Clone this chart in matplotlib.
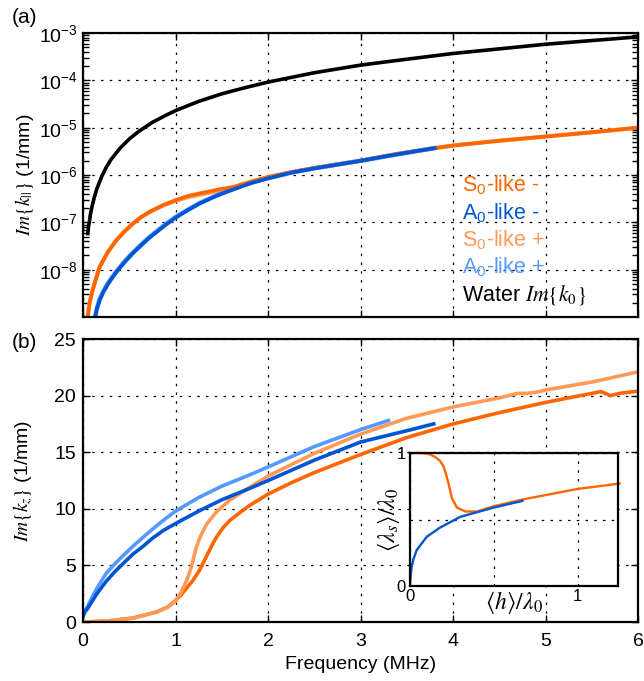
import numpy as np
import matplotlib
matplotlib.use("Agg")
import matplotlib.pyplot as plt
from matplotlib.ticker import LogLocator, NullFormatter

plt.rcParams['font.family'] = ['Liberation Sans', 'DejaVu Sans']
plt.rcParams['mathtext.fontset'] = 'stix'

# colours
C_S0 = "#ff6600"
C_A0 = "#0055d4"
C_S0P = "#ff9955"
C_A0P = "#5599ff"

# ---- panel (a): Im{k_par}, log scale ----
f_water = [0.05, 0.06, 0.07, 0.08, 0.1, 0.12, 0.15, 0.2, 0.25, 0.3, 0.4, 0.5, 0.6, 0.75, 0.9, 1.0,
           1.25, 1.5, 1.75, 2.0, 2.5, 3.0, 3.5, 4.0, 5.0, 6.0]
water_a = [5.8e-8, 8.3e-8, 1.1e-7, 1.5e-7, 2.3e-7, 3.3e-7, 5.2e-7, 9.2e-7, 1.45e-6, 2.1e-6, 3.7e-6,
           5.8e-6, 8.3e-6, 1.3e-5, 1.85e-5, 2.3e-5, 3.6e-5, 5.2e-5, 7.0e-5, 9.2e-5, 1.45e-4, 2.1e-4,
           2.8e-4, 3.7e-4, 5.8e-4, 8.3e-4]

f_s0_a = [0.05, 0.07, 0.1, 0.14, 0.18, 0.27, 0.36, 0.45, 0.54, 0.63, 0.72, 0.86, 1.0, 1.13, 1.26,
          1.36, 1.47, 1.62, 1.8, 2.0, 2.25, 2.5, 3.0, 3.4, 3.8, 4.0, 4.5, 5.0, 5.5, 6.0]
s0_minus_a = [1e-9, 2e-9, 3.5e-9, 6.5e-9, 1.15e-8, 2.4e-8, 4.2e-8, 6.5e-8, 9.5e-8, 1.3e-7, 1.67e-7,
              2.3e-7, 2.95e-7, 3.6e-7, 4.1e-7, 4.5e-7, 5.0e-7, 5.6e-7, 7.1e-7, 9.1e-7, 1.15e-6,
              1.4e-6, 2.0e-6, 2.8e-6, 3.7e-6, 4.2e-6, 5.3e-6, 6.5e-6, 8.0e-6, 1.0e-5]
s0_plus_a = [1e-9, 2e-9, 3.5e-9, 6.5e-9, 1.15e-8, 2.4e-8, 4.2e-8, 6.5e-8, 9.5e-8, 1.3e-7, 1.65e-7,
             2.25e-7, 2.85e-7, 3.4e-7, 3.85e-7, 4.2e-7, 4.7e-7, 5.4e-7, 7.0e-7, 9.0e-7, 1.15e-6,
             1.4e-6, 2.0e-6, 2.8e-6, 3.7e-6, 4.2e-6, 5.3e-6, 6.5e-6, 8.0e-6, 1.0e-5]

f_a0_a = [0.13, 0.15, 0.18, 0.22, 0.27, 0.36, 0.45, 0.54, 0.63, 0.72, 0.81, 0.9, 1.0, 1.13, 1.26,
          1.45, 1.64, 1.82, 2.0, 2.25, 2.5, 3.0, 3.4, 3.8]
a0_minus_a = [1e-9, 1.5e-9, 2.3e-9, 3.4e-9, 5e-9, 8.9e-9, 1.45e-8, 2.25e-8, 3.3e-8, 4.8e-8, 6.6e-8,
              9.1e-8, 1.26e-7, 1.8e-7, 2.5e-7, 3.7e-7, 5.1e-7, 6.8e-7, 8.5e-7, 1.12e-6, 1.38e-6,
              2.0e-6, 2.75e-6, 3.7e-6]
a0_plus_a = [1e-9, 1.55e-9, 2.4e-9, 3.5e-9, 5.2e-9, 9.2e-9, 1.5e-8, 2.3e-8, 3.4e-8, 4.9e-8, 6.8e-8,
             9.3e-8, 1.29e-7, 1.83e-7, 2.55e-7, 3.75e-7, 5.2e-7, 6.9e-7, 8.6e-7, 1.13e-6, 1.39e-6,
             2.0e-6, 2.75e-6, 3.7e-6]

# ---- panel (b): Im{k_z}, linear ----
f_s0m_b = [0, 0.25, 0.54, 0.8, 0.92, 1.0, 1.06, 1.12, 1.19, 1.26, 1.3, 1.34, 1.4, 1.45, 1.52, 1.59,
           1.7, 1.8, 2.0, 2.25, 2.5, 3.0, 3.5, 4.0, 4.5, 5.0, 5.5, 5.6, 5.7, 5.8, 6.0]
s0_minus_b = [0, 0.08, 0.35, 0.9, 1.35, 1.9, 2.4, 3.0, 3.7, 4.6, 5.25, 5.9, 6.9, 7.6, 8.4, 9.0,
              9.7, 10.3, 11.3, 12.3, 13.2, 14.8, 16.3, 17.5, 18.5, 19.4, 20.2, 20.35, 20.0, 20.2, 20.4]

f_s0p_b = [0, 0.25, 0.54, 0.8, 0.92, 1.0, 1.06, 1.12, 1.16, 1.19, 1.22, 1.26, 1.3, 1.34, 1.4, 1.45,
           1.59, 1.8, 2.0, 2.5, 3.0, 3.5, 4.0, 4.5, 4.7, 4.8, 4.9, 5.0, 5.5, 6.0]
s0_plus_b = [0, 0.08, 0.35, 0.9, 1.35, 1.9, 2.6, 3.7, 4.6, 5.5, 6.5, 7.4, 8.1, 8.7, 9.3, 9.8,
             10.8, 11.9, 12.9, 14.9, 16.6, 18.0, 19.0, 19.8, 20.2, 20.2, 20.3, 20.5, 21.2, 22.1]

f_a0m_b = [0, 0.02, 0.05, 0.08, 0.15, 0.25, 0.35, 0.45, 0.54, 0.65, 0.75, 0.87, 1.0, 1.25, 1.5,
           1.8, 2.0, 2.5, 3.0, 3.5, 3.79]
a0_minus_b = [0.5, 0.9, 1.2, 1.6, 2.5, 3.6, 4.5, 5.3, 6.0, 6.7, 7.4, 8.1, 8.7, 9.8, 10.8,
              11.8, 12.5, 14.3, 15.9, 16.9, 17.5]

f_a0p_b = [0, 0.02, 0.05, 0.08, 0.15, 0.25, 0.35, 0.45, 0.54, 0.65, 0.75, 0.87, 1.0, 1.25, 1.5,
           1.8, 2.0, 2.5, 3.0, 3.3]
a0_plus_b = [0.5, 1.0, 1.4, 1.9, 3.0, 4.3, 5.2, 6.0, 6.7, 7.5, 8.2, 9.0, 9.8, 11.0, 12.0,
             13.0, 13.7, 15.5, 17.0, 17.8]

# ---- inset: <lambda_s>/lambda_0 vs <h>/lambda_0 ----
h_s0 = [0, 0.07, 0.12, 0.15, 0.18, 0.2, 0.215, 0.23, 0.25, 0.28, 0.33, 0.4, 0.5, 0.67, 1.0, 1.25]
lam_s0 = [1.0, 1.0, 0.99, 0.97, 0.94, 0.9, 0.84, 0.77, 0.66, 0.59, 0.56, 0.56, 0.60, 0.65, 0.73, 0.77]
h_a0 = [0, 0.003, 0.01, 0.02, 0.04, 0.1, 0.18, 0.3, 0.5, 0.67]
lam_a0 = [0, 0.07, 0.14, 0.2, 0.27, 0.37, 0.44, 0.52, 0.59, 0.64]

GRID = dict(color="k", linestyle=(0, (2, 5)), linewidth=0.9)


def style_axes(ax):
    for s in ax.spines.values():
        s.set_linewidth(1.6)
    ax.tick_params(which="both", direction="in", top=True, right=True, labelsize=14)
    ax.tick_params(which="major", length=5, width=1)
    ax.tick_params(which="minor", length=4, width=1)


fig = plt.figure(figsize=(6.44, 6.81), dpi=100)

# (a)
ax1 = fig.add_axes([0.129, 0.5345, 0.862, 0.417])
ax1.plot(f_s0_a, s0_plus_a, color=C_S0P, lw=3.0)
ax1.plot(f_a0_a, a0_plus_a, color=C_A0P, lw=3.3)
l_s0, = ax1.plot(f_s0_a, s0_minus_a, color=C_S0, lw=2.6)
l_a0, = ax1.plot(f_a0_a, a0_minus_a, color=C_A0, lw=2.6)
l_w, = ax1.plot(f_water, water_a, color="k", lw=2.6)
ax1.set_yscale("log")
ax1.set_xlim(0, 6)
ax1.set_ylim(1e-9, 1e-3)
ax1.set_yticks([1e-8, 1e-7, 1e-6, 1e-5, 1e-4, 1e-3])
ax1.yaxis.set_minor_locator(LogLocator(base=10, subs=np.arange(2, 10), numticks=100))
ax1.yaxis.set_minor_formatter(NullFormatter())
ax1.set_xticks(range(7))
ax1.set_xticklabels([])
ax1.grid(True, which="major", **GRID)
style_axes(ax1)
ax1.tick_params(axis="y", pad=4)
ax1.set_ylabel(r"$Im\{k_{||}\}$ (1/mm)", fontsize=14, labelpad=2)

h_s0p, = ax1.plot([], [], color=C_S0P)
h_a0p, = ax1.plot([], [], color=C_A0P)
leg = ax1.legend([l_s0, l_a0, h_s0p, h_a0p, l_w],
                 [r"S$_{\mathdefault{0}}$-like -", r"A$_{\mathdefault{0}}$-like -",
                  r"S$_{\mathdefault{0}}$-like +", r"A$_{\mathdefault{0}}$-like +",
                  r"Water $Im\{k_0\}$"],
                 loc="lower left", bbox_to_anchor=(0.647, -0.032), frameon=False,
                 handlelength=0, handletextpad=0, labelspacing=0.2,
                 labelcolor="linecolor", fontsize=15.5)
for h in leg.legend_handles:
    h.set_visible(False)

# (b)
ax2 = fig.add_axes([0.129, 0.0866, 0.862, 0.4156])
ax2.plot(f_s0m_b, s0_minus_b, color=C_S0, lw=2.6)
ax2.plot(f_s0p_b, s0_plus_b, color=C_S0P, lw=2.6)
ax2.plot(f_a0p_b, a0_plus_b, color=C_A0P, lw=2.6)
ax2.plot(f_a0m_b, a0_minus_b, color=C_A0, lw=2.6)
ax2.set_xlim(0, 6)
ax2.set_ylim(0, 25)
ax2.set_xticks(range(7))
ax2.set_yticks(range(0, 26, 5))
ax2.grid(True, which="major", **GRID)
style_axes(ax2)
ax2.tick_params(axis="x", pad=8)
ax2.tick_params(axis="y", pad=5)
ax2.set_xlabel("Frequency (MHz)", fontsize=14, labelpad=4)
ax2.set_ylabel(r"$Im\{k_z\}$ (1/mm)", fontsize=14, labelpad=14)

# inset
ax3 = fig.add_axes([0.6366, 0.1395, 0.323, 0.1953])
ax3.plot(h_s0, lam_s0, color=C_S0, lw=1.7, clip_on=False)
ax3.plot(h_a0, lam_a0, color=C_A0, lw=1.7)
ax3.set_xlim(0, 1.24)
ax3.set_ylim(0, 1)
ax3.set_xticks([0, 0.5, 1])
ax3.set_xticklabels(["0", "", "1"])
ax3.set_yticks([0, 0.5, 1])
ax3.set_yticklabels(["0", "", "1"])
ax3.grid(True, which="major", **GRID)
for s in ax3.spines.values():
    s.set_linewidth(1.6)
ax3.tick_params(direction="in", length=0, labelsize=12)
ax3.tick_params(axis="x", pad=2)
ax3.tick_params(axis="y", pad=3)
ax3.set_xlabel(r"$\langle h\rangle/\lambda_0$", fontsize=17)
ax3.xaxis.set_label_coords(0.5, -0.03)
ax3.set_ylabel(r"$\langle\lambda_s\rangle/\lambda_0$", fontsize=17)
ax3.yaxis.set_label_coords(-0.04, 0.5)

fig.text(0.018, 0.975, "(a)", fontsize=15, ha="left", va="center")
fig.text(0.018, 0.497, "(b)", fontsize=15, ha="left", va="center")

fig.savefig("out.png", dpi=100)
